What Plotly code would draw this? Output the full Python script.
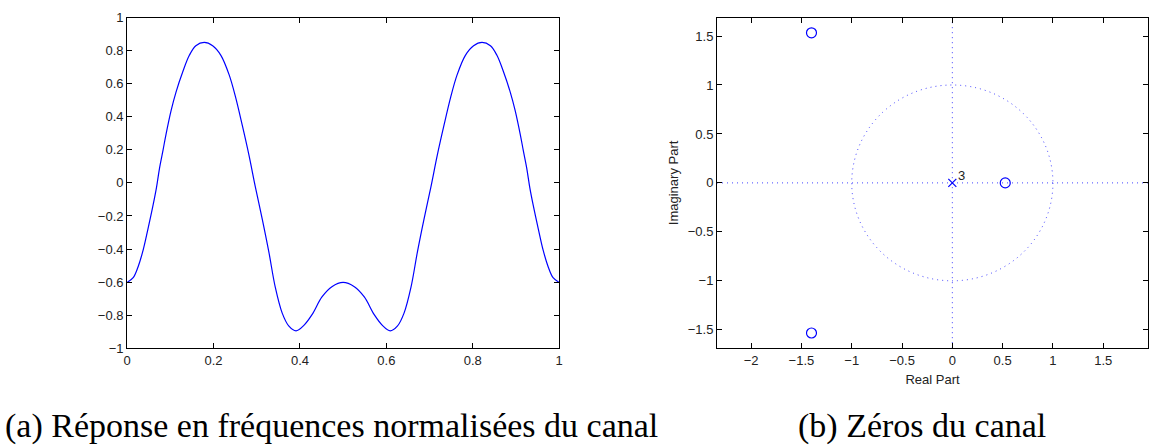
import plotly.graph_objects as go

# ---- data: normalised frequency response ----
freq = [0.000, 0.014, 0.025, 0.037, 0.048, 0.060, 0.068, 0.075, 0.083, 0.090,
        0.102, 0.113, 0.129, 0.144, 0.159, 0.1785, 0.198, 0.217, 0.236, 0.251,
        0.267, 0.282, 0.297, 0.313, 0.328, 0.343, 0.359, 0.374, 0.391, 0.408,
        0.428, 0.451, 0.474, 0.500,
        0.526, 0.549, 0.572, 0.592, 0.609, 0.626, 0.641, 0.657, 0.672, 0.687,
        0.703, 0.718, 0.733, 0.749, 0.764, 0.783, 0.802, 0.8215, 0.841, 0.856,
        0.871, 0.887, 0.898, 0.910, 0.917, 0.925, 0.932, 0.940, 0.952, 0.963,
        0.975, 0.986, 1.000]
response = [-0.602, -0.573, -0.510, -0.407, -0.281, -0.135, -0.027, 0.090, 0.197, 0.294,
            0.440, 0.548, 0.674, 0.772, 0.830, 0.850, 0.830, 0.772, 0.655, 0.519,
            0.343, 0.168, -0.027, -0.222, -0.417, -0.632, -0.788, -0.865, -0.895, -0.865,
            -0.797, -0.690, -0.628, -0.602,
            -0.628, -0.690, -0.797, -0.865, -0.895, -0.865, -0.788, -0.632, -0.417, -0.222,
            -0.027, 0.168, 0.343, 0.519, 0.655, 0.772, 0.830, 0.850, 0.830, 0.772,
            0.674, 0.548, 0.440, 0.294, 0.197, 0.090, -0.027, -0.135, -0.281, -0.407,
            -0.510, -0.573, -0.602]

# ---- data: zeros / poles of the channel ----
zeros_re = [-1.40, -1.40, 0.526]
zeros_im = [1.533, -1.533, 0.0]
poles_re = [0.0]
poles_im = [0.0]
pole_mult = ["3"]

# ---- tick labels ----
left_xticks = [0, 0.2, 0.4, 0.6, 0.8, 1]
left_xtext = ["0", "0.2", "0.4", "0.6", "0.8", "1"]
left_yticks = [-1, -0.8, -0.6, -0.4, -0.2, 0, 0.2, 0.4, 0.6, 0.8, 1]
left_ytext = ["\u22121", "\u22120.8", "\u22120.6", "\u22120.4", "\u22120.2", "0",
              "0.2", "0.4", "0.6", "0.8", "1"]
right_xticks = [-2, -1.5, -1, -0.5, 0, 0.5, 1, 1.5]
right_xtext = ["\u22122", "\u22121.5", "\u22121", "\u22120.5", "0", "0.5", "1", "1.5"]
right_yticks = [-1.5, -1, -0.5, 0, 0.5, 1, 1.5]
right_ytext = ["\u22121.5", "\u22121", "\u22120.5", "0", "0.5", "1", "1.5"]

captions = ["(a) Réponse en fréquences normalisées du canal", "(b) Zéros du canal"]

W, H = 1153, 448
BLUE = "rgb(0,0,255)"
TICKFONT = dict(family="Liberation Sans, Arial, sans-serif", size=13, color="#222")

fig = go.Figure()
fig.add_trace(go.Scatter(x=freq, y=response, mode="lines",
                         line=dict(color=BLUE, width=1.2, shape="spline", smoothing=1.0),
                         xaxis="x", yaxis="y", hoverinfo="skip"))
fig.add_trace(go.Scatter(x=zeros_re, y=zeros_im, mode="markers",
                         marker=dict(symbol="circle-open", size=10, color=BLUE,
                                     line=dict(width=1.2, color=BLUE)),
                         xaxis="x2", yaxis="y2"))
fig.add_trace(go.Scatter(x=poles_re, y=poles_im, mode="markers",
                         marker=dict(symbol="x-thin-open", size=8, color=BLUE,
                                     line=dict(width=1.2, color=BLUE)),
                         xaxis="x2", yaxis="y2"))
for xr, yi, m in zip(poles_re, poles_im, pole_mult):
    fig.add_annotation(x=xr, y=yi, xref="x2", yref="y2", text=m, showarrow=False,
                       xanchor="center", yanchor="middle", xshift=9, yshift=7,
                       font=dict(family="Liberation Sans, Arial, sans-serif", size=13, color="#222"))

ydom = [(H - 353) / H, (H - 11) / H]
axis_common = dict(showline=True, linecolor="black", linewidth=1, mirror="ticks",
                   ticks="inside", ticklen=5, tickwidth=1, tickcolor="black",
                   showgrid=False, zeroline=False, tickfont=TICKFONT)

fig.update_layout(
    width=W, height=H,
    margin=dict(l=0, r=0, t=0, b=0),
    paper_bgcolor="white", plot_bgcolor="white",
    showlegend=False,
    xaxis=dict(domain=[124 / W, 559 / W], range=[0, 1], tickvals=left_xticks,
               ticktext=left_xtext, anchor="y", **axis_common),
    yaxis=dict(domain=ydom, range=[-1, 1], tickvals=left_yticks,
               ticktext=left_ytext, anchor="x", **axis_common),
    xaxis2=dict(domain=[718 / W, 1152 / W], range=[-2.339, 1.945], tickvals=right_xticks,
                ticktext=right_xtext, anchor="y2",
                title=dict(text="Real Part", font=TICKFONT, standoff=8), **axis_common),
    yaxis2=dict(domain=ydom, range=[-1.688, 1.688], tickvals=right_yticks,
                ticktext=right_ytext, anchor="x2",
                title=dict(text="Imaginary Part", font=TICKFONT, standoff=6), **axis_common),
)

dot = dict(color="rgba(0,0,255,0.75)", width=1, dash="1px,4px")
fig.add_shape(type="circle", xref="x2", yref="y2", x0=-1, y0=-1, x1=1, y1=1, line=dot, layer="below")
fig.add_shape(type="line", xref="x2 domain", yref="y2", x0=0, x1=1, y0=0, y1=0, line=dot, layer="below")
fig.add_shape(type="line", xref="x2", yref="y2 domain", x0=0, x1=0, y0=0, y1=1, line=dot, layer="below")

capfont = dict(family="Liberation Serif, Times New Roman, serif", size=34, color="black")
fig.add_annotation(text=captions[0], xref="paper", yref="paper", x=330 / W, y=(H - 434) / H,
                   xanchor="center", yanchor="middle", showarrow=False, font=capfont)
fig.add_annotation(text=captions[1], xref="paper", yref="paper", x=924 / W, y=(H - 434) / H,
                   xanchor="center", yanchor="middle", showarrow=False, font=capfont)

fig.write_html("out.html")
